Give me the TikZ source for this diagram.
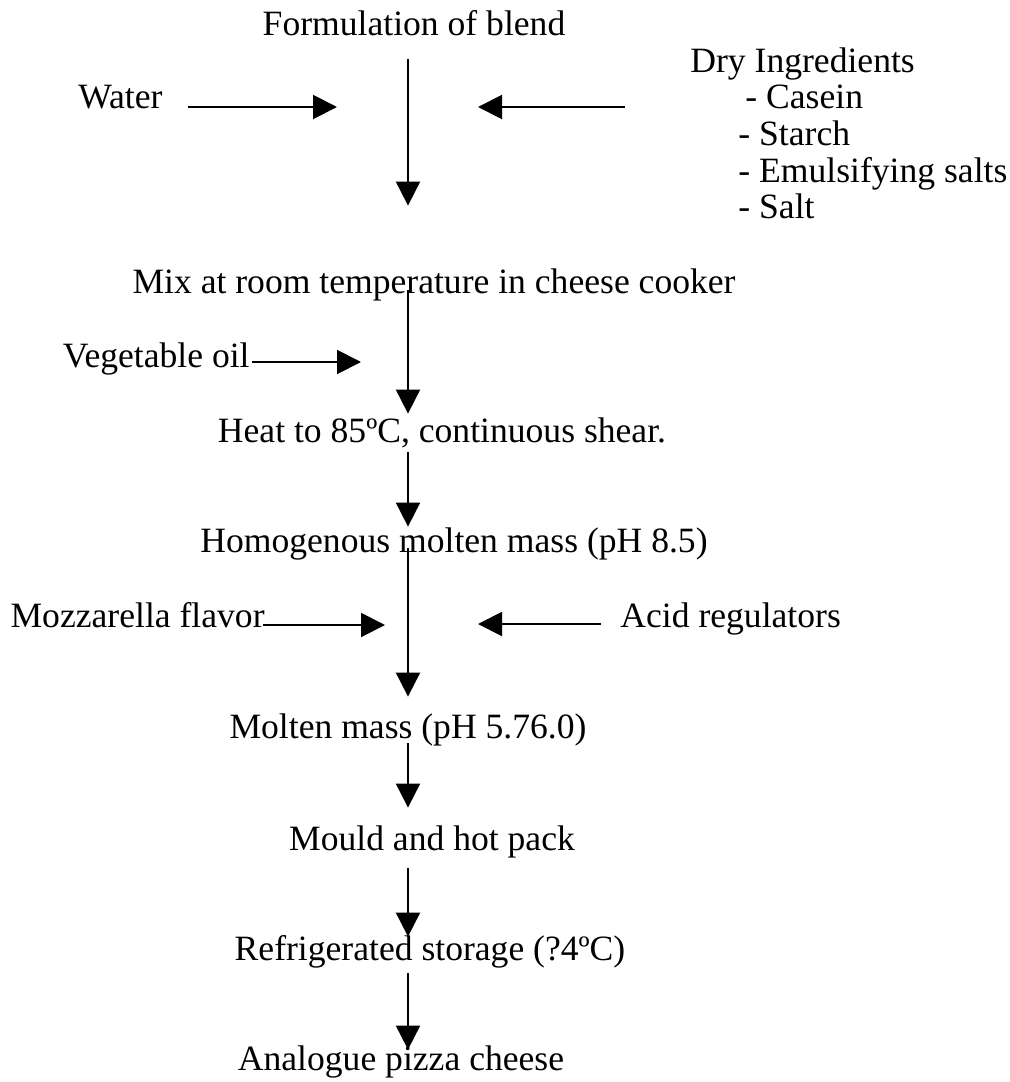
\documentclass[tikz,border=0pt]{standalone}
\usepackage{fontspec}
\setmainfont{Liberation Serif}
\usetikzlibrary{arrows.meta}
\begin{document}
\begin{tikzpicture}[x=0.5pt,y=-0.5pt,
  lbl/.style={inner sep=0pt, text height=13pt, text depth=4pt, font=\fontsize{17.8}{20}\selectfont},
  flow/.style={line width=1pt, -{Triangle[length=12pt,width=12pt]}},
]
\path[use as bounding box, fill=white] (0,0) rectangle (1010,1082);
\coordinate (spine) at (408,0);
% main steps
\node[lbl,anchor=base] (form) at (414,35) {Formulation of blend};
\node[lbl,anchor=base] (mix) at (434,293) {Mix at room temperature in cheese cooker};
\node[lbl,anchor=base] (heat) at (442,442) {Heat to 85ºC, continuous shear.};
\node[lbl,anchor=base] (homog) at (454,552) {Homogenous molten mass (pH 8.5)};
\node[lbl,anchor=base] (molten) at (408,738) {Molten mass (pH 5.76.0)};
\node[lbl,anchor=base] (mould) at (432,850) {Mould and hot pack};
\node[lbl,anchor=base] (refrig) at (430,960) {Refrigerated storage (?4ºC)};
\node[lbl,anchor=base] (anal) at (401,1070) {Analogue pizza cheese};
% side inputs
\node[lbl,anchor=base west] (water) at (78,108) {Water};
\node[lbl,anchor=base west] (dry) at (690,72) {Dry Ingredients};
\node[lbl,anchor=base west] (casein) at (745,108) {- Casein};
\node[lbl,anchor=base west] (starch) at (738,145) {- Starch};
\node[lbl,anchor=base west] (emuls) at (738,182) {- Emulsifying salts};
\node[lbl,anchor=base west] (salt) at (738,218) {- Salt};
\node[lbl,anchor=base east] (veg) at (250,367) {Vegetable oil};
\node[lbl,anchor=base east] (mozz) at (265,627) {Mozzarella flavor};
\node[lbl,anchor=base west] (acid) at (620,627) {Acid regulators};
% main flow arrows
\draw[flow, shorten <=8pt, shorten >=30.5pt] (form.south -| spine) -- (mix.north -| spine);
\draw[flow, shorten <=-5.5pt, shorten >=1pt] (mix.south -| spine) -- (heat.north -| spine);
\draw[flow, shorten <=1pt, shorten >=-0.5pt] (heat.south -| spine) -- (homog.north -| spine);
\draw[flow, shorten <=-6pt, shorten >=7.5pt] (homog.south -| spine) -- (molten.north -| spine);
\draw[flow, shorten <=-1.5pt, shorten >=8pt] (molten.south -| spine) -- (mould.north -| spine);
\draw[flow, shorten <=5pt, shorten >=-1.5pt] (mould.south -| spine) -- (refrig.north -| spine);
\draw[flow, shorten <=2.5pt, shorten >=-3pt] (refrig.south -| spine) -- (anal.north -| spine);
% side arrows
\coordinate (wtip) at (337,107);
\coordinate (dtip) at (478,107);
\coordinate (vtip) at (361,362);
\coordinate (mtip) at (385,625);
\coordinate (atip) at (478,624);
\draw[flow] ([shift={(12.5pt,0.5pt)}]water.base east) -- (wtip);
\draw[flow] ([shift={(-60pt,0.5pt)}]casein.base west) -- (dtip);
\draw[flow] ([shift={(1pt,2.5pt)}]veg.base east) -- (vtip);
\draw[flow] ([shift={(-1pt,1pt)}]mozz.base east) -- (mtip);
\draw[flow] ([shift={(-9.5pt,1.5pt)}]acid.base west) -- (atip);
\end{tikzpicture}
\end{document}
